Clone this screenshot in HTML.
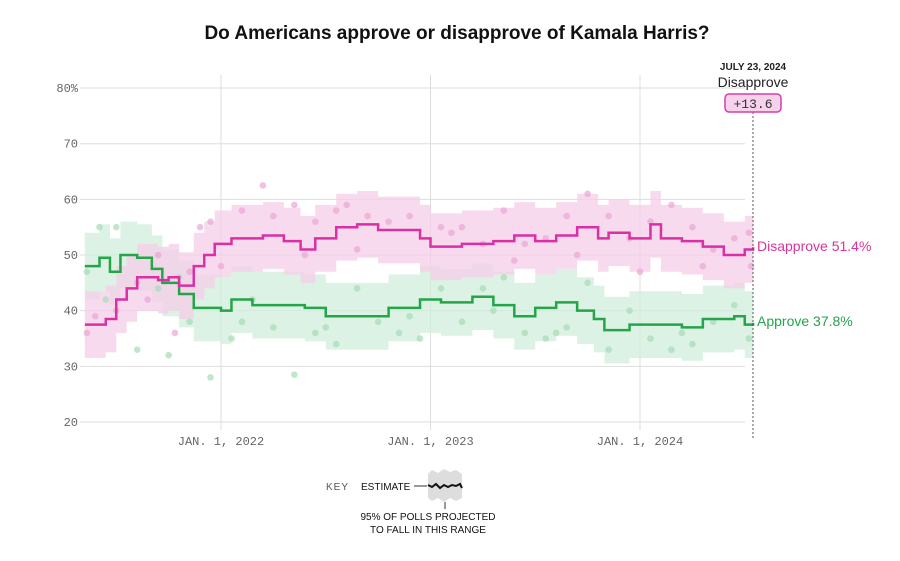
<!DOCTYPE html>
<html><head><meta charset="utf-8">
<style>
body{margin:0;background:#fff;width:900px;height:561px;overflow:hidden;font-family:"Liberation Sans",sans-serif}
svg{display:block}
.tk{font-family:"Liberation Mono",monospace;font-size:12px;fill:#666}
</style></head><body>
<svg id="chart" width="900" height="561">
<text x="457" y="39" text-anchor="middle" font-size="19" font-weight="bold" fill="#111">Do Americans approve or disapprove of Kamala Harris?</text>
<g id="grid"></g>
<g id="bands"></g>
<g id="dots"></g>
<g id="lines"></g>
<line x1="753" y1="100" x2="753" y2="440" stroke="#555" stroke-dasharray="2,2"/>
<text x="753" y="70" text-anchor="middle" font-size="10" font-weight="bold" fill="#222">JULY 23, 2024</text>
<text x="753" y="87" text-anchor="middle" font-size="14" fill="#222">Disapprove</text>
<rect x="725" y="94" width="56" height="18" rx="4" fill="#f7d2ec" stroke="#d63fa8" stroke-width="1.5"/>
<text x="753" y="108" text-anchor="middle" font-family="Liberation Mono,monospace" font-size="13" fill="#333">+13.6</text>
<text x="757" y="251" font-size="14" fill="#d6359f">Disapprove 51.4%</text>
<text x="757" y="326" font-size="14" fill="#25a44a">Approve 37.8%</text>
<g>
<text x="326" y="490" font-size="10" fill="#555" letter-spacing="1">KEY</text>
<text x="361" y="490" font-size="10" fill="#111">ESTIMATE</text>
<line x1="414" y1="486" x2="427" y2="486" stroke="#333"/>
<path d="M428 474 L432 470 L438 473 L444 469 L450 472 L456 470 L462 474 L462 498 L456 501 L450 498 L444 502 L438 498 L432 501 L428 498Z" fill="#ddd"/>
<path d="M428 485 L432 487 L436 484 L440 488 L444 485 L448 487 L452 485 L456 486 L460 484 L462 488" fill="none" stroke="#111" stroke-width="2"/>
<line x1="445" y1="502" x2="445" y2="509" stroke="#333"/>
<text x="428" y="520" text-anchor="middle" font-size="10" fill="#111">95% OF POLLS PROJECTED</text>
<text x="428" y="533" text-anchor="middle" font-size="10" fill="#111">TO FALL IN THIS RANGE</text>
</g>
</svg>
<script>
const yTicks=[20,30,40,50,60,70,80];
const xTickYears=[2022,2023,2024];
const xTickLabels=["JAN. 1, 2022","JAN. 1, 2023","JAN. 1, 2024"];
const disT=[2021.35,2021.45,2021.5,2021.55,2021.6,2021.7,2021.75,2021.8,2021.87,2021.92,2021.97,2022.05,2022.2,2022.3,2022.38,2022.45,2022.55,2022.65,2022.75,2022.85,2022.95,2023.0,2023.15,2023.3,2023.4,2023.5,2023.6,2023.7,2023.8,2023.85,2023.95,2024.05,2024.1,2024.2,2024.3,2024.4,2024.5,2024.54];
const disV=[37.5,38.5,42,44,46,45.5,46,44.5,48,50,52,53,53.5,52.5,51,53,55,55.5,54.5,54.5,53,51.5,52,52.5,53.5,52.5,53.5,55,53,54,53,55.5,53,52.5,51.5,50,51,51.4];
const appT=[2021.35,2021.42,2021.47,2021.52,2021.6,2021.67,2021.72,2021.8,2021.87,2021.95,2022.0,2022.05,2022.15,2022.3,2022.4,2022.5,2022.65,2022.8,2022.95,2023.05,2023.2,2023.3,2023.4,2023.5,2023.6,2023.7,2023.78,2023.83,2023.95,2024.1,2024.2,2024.3,2024.45,2024.5,2024.54];
const appV=[48,49.5,47,50,49.5,47.5,45,43,40.5,40.5,40,42,41,41,40.5,39,39,40.5,42,41.5,42.5,41,39,40.5,41.5,40,38.5,36.5,37.5,37.5,37,38.5,39,37.5,37.8];
const disPollT=[2021.36,2021.4,2021.5,2021.6,2021.7,2021.78,2021.9,2021.95,2022.1,2022.2,2022.25,2022.35,2022.45,2022.55,2022.6,2022.7,2022.8,2022.9,2023.05,2023.15,2023.25,2023.35,2023.45,2023.55,2023.65,2023.75,2023.85,2023.95,2024.05,2024.15,2024.25,2024.35,2024.45,2024.52,2024.53,2021.65,2021.85,2022.0,2022.4,2022.65,2023.1,2023.4,2023.7,2024.0,2024.3];
const disPollV=[36,39,40,45,50,36,55,56,58,62.5,57,59,56,58,59,57,56,57,55,55,52,58,52,53,57,61,57,53,56,59,55,51,53,54,48,42,47,48,50,51,54,49,50,47,48];
const appPollT=[2021.36,2021.42,2021.5,2021.6,2021.7,2021.75,2021.85,2021.95,2022.05,2022.15,2022.25,2022.35,2022.45,2022.55,2022.65,2022.75,2022.85,2022.95,2023.05,2023.15,2023.25,2023.35,2023.45,2023.55,2023.65,2023.75,2023.85,2023.95,2024.05,2024.15,2024.25,2024.35,2024.45,2024.52,2021.45,2021.8,2022.1,2022.5,2022.9,2023.3,2023.6,2024.2];
const appPollV=[47,55,55,33,44,32,38,28,35,42,37,28.5,36,34,44,38,36,35,44,38,44,46,36,35,37,45,33,40,35,33,34,38,41,35,42,46,38,37,39,40,36,36];
const BAND=6;
const NS="http://www.w3.org/2000/svg";
const xS=t=>221+(t-2022)*209.5;
const yS=v=>422-(v-20)*5.566;
function mk(tag,attrs,parent){const e=document.createElementNS(NS,tag);for(const k in attrs)e.setAttribute(k,attrs[k]);parent.appendChild(e);return e;}
const grid=document.getElementById('grid');
yTicks.forEach(v=>{
 const l=mk('line',{x1:80,x2:745,y1:yS(v),y2:yS(v),stroke:'#ddd'},grid);
 
 
 const t=mk('text',{x:78,y:yS(v)+4,'text-anchor':'end',class:'tk'},grid);
 t.textContent=v===80?'80%':String(v);
 
 
});
xTickYears.forEach((yr,i)=>{
 const l=mk('line',{x1:xS(yr),x2:xS(yr),y1:75,y2:430,stroke:'#ddd'},grid);
 
 
 const t=mk('text',{x:xS(yr),y:445,'text-anchor':'middle',class:'tk'},grid);
 t.textContent=xTickLabels[i];
 
 
});
function stepPts(T,V,off){let p=[];for(let i=0;i<T.length;i++){const x0=xS(T[i]),x1=i<T.length-1?xS(T[i+1]):xS(T[i]);p.push([x0,yS(V[i]+off)],[x1,yS(V[i]+off)]);}return p;}
function band(T,V,color,name){
 const up=stepPts(T,V,BAND),dn=stepPts(T,V,-BAND).reverse();
 const p=mk('path',{d:'M'+up.concat(dn).map(q=>q.join(' ')).join(' L')+'Z',fill:color,opacity:0.75},document.getElementById('bands'));
 
 
}
band(appT,appV,'#cfeedb','approve-range-band');
band(disT,disV,'#f6cde9','disapprove-range-band');
function dots(T,V,color,name){
 const g=document.getElementById('dots');
 T.forEach((t,i)=>{const c=mk('circle',{cx:xS(t),cy:yS(V[i]),r:3.3,fill:color,opacity:0.7},g);
 
 });
}
dots(disPollT,disPollV,'#e9a6d6','disapprove-poll-dot');
dots(appPollT,appPollV,'#a8dcb7','approve-poll-dot');
function line(T,V,color,name){
 const pts=stepPts(T,V,0);
 const p=mk('path',{d:'M'+pts.map(q=>q.join(' ')).join(' L'),fill:'none',stroke:color,'stroke-width':2.5},document.getElementById('lines'));
 
 
}
line(appT,appV,'#23a548','approve-line');
line(disT,disV,'#db2fa5','disapprove-line');
</script>
</body></html>
